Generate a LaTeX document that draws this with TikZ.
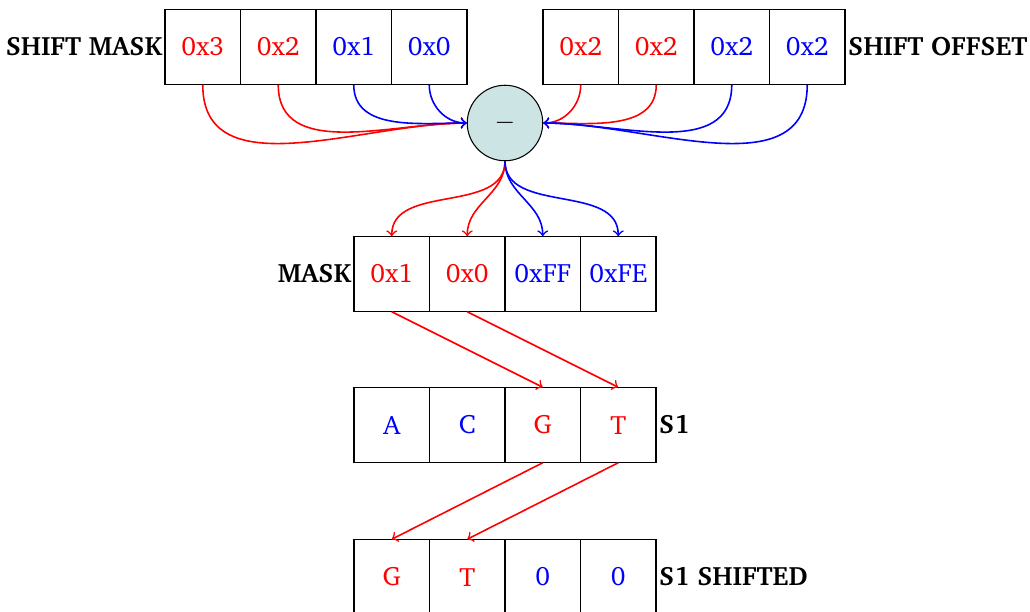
\documentclass[tikz,border=0pt]{standalone}
\usepackage[T1]{fontenc}
\usepackage{charter}
\definecolor{opfill}{RGB}{204,229,228}
\begin{document}
\begin{tikzpicture}[x=0.013245cm,y=-0.013245cm,
  cell/.style={draw, minimum width=1cm, minimum height=1cm, inner sep=0pt, outer sep=0pt},
  tag/.style={font=\bfseries, inner sep=1pt},
  op/.style={draw, circle, fill=opfill, minimum size=1cm, inner sep=0pt},
  link/.style={->, semithick}]
\useasboundingbox (0,0) rectangle (1030,612);

% shift mask
\node[cell,text=red]  (sm3) at (202.75,47) {0x3};
\node[cell,text=red]  (sm2) at (278.25,47) {0x2};
\node[cell,text=blue] (sm1) at (353.75,47) {0x1};
\node[cell,text=blue] (sm0) at (429.25,47) {0x0};
\node[tag,anchor=east] (lsm) at (sm3.west) {SHIFT MASK};

% shift offset
\node[cell,text=red]  (so3) at (580.75,47) {0x2};
\node[cell,text=red]  (so2) at (656.25,47) {0x2};
\node[cell,text=blue] (so1) at (731.75,47) {0x2};
\node[cell,text=blue] (so0) at (807.25,47) {0x2};
\node[tag,anchor=west] (lso) at (so0.east) {SHIFT OFFSET};

% subtraction
\node[op] (sub) at (505,123) {$-$};

% mask
\node[cell,text=red]  (m3) at (391.75,274) {0x1};
\node[cell,text=red]  (m2) at (467.25,274) {0x0};
\node[cell,text=blue] (m1) at (542.75,274) {0xFF};
\node[cell,text=blue] (m0) at (618.25,274) {0xFE};
\node[tag,anchor=east] (lm) at (m3.west) {MASK};

% s1
\node[cell,text=blue] (s3) at (391.75,425) {A};
\node[cell,text=blue] (s2) at (467.25,425) {C};
\node[cell,text=red]  (s1) at (542.75,425) {G};
\node[cell,text=red]  (s0) at (618.25,425) {T};
\node[tag,anchor=west] (ls) at (s0.east) {S1};

% s1 shifted
\node[cell,text=red]  (t3) at (391.75,577) {G};
\node[cell,text=red]  (t2) at (467.25,577) {T};
\node[cell,text=blue] (t1) at (542.75,577) {0};
\node[cell,text=blue] (t0) at (618.25,577) {0};
\node[tag,anchor=west] (lt) at (t0.east) {S1 SHIFTED};

% operands into the subtraction
\draw[link,red]  (sm3.south) to[out=-90,in=180] (sub.west);
\draw[link,red]  (sm2.south) to[out=-90,in=180] (sub.west);
\draw[link,blue] (sm1.south) to[out=-90,in=180] (sub.west);
\draw[link,blue] (sm0.south) to[out=-90,in=180] (sub.west);
\draw[link,red]  (so3.south) to[out=-90,in=0] (sub.east);
\draw[link,red]  (so2.south) to[out=-90,in=0] (sub.east);
\draw[link,blue] (so1.south) to[out=-90,in=0] (sub.east);
\draw[link,blue] (so0.south) to[out=-90,in=0] (sub.east);

% result into the mask
\draw[link,red]  (sub.south) to[out=-90,in=90] (m3.north);
\draw[link,red]  (sub.south) to[out=-90,in=90] (m2.north);
\draw[link,blue] (sub.south) to[out=-90,in=90] (m1.north);
\draw[link,blue] (sub.south) to[out=-90,in=90] (m0.north);

% selecting and shifting
\draw[link,red] (m3.south) -- (s1.north);
\draw[link,red] (m2.south) -- (s0.north);
\draw[link,red] (s1.south) -- (t3.north);
\draw[link,red] (s0.south) -- (t2.north);
\end{tikzpicture}
\end{document}
